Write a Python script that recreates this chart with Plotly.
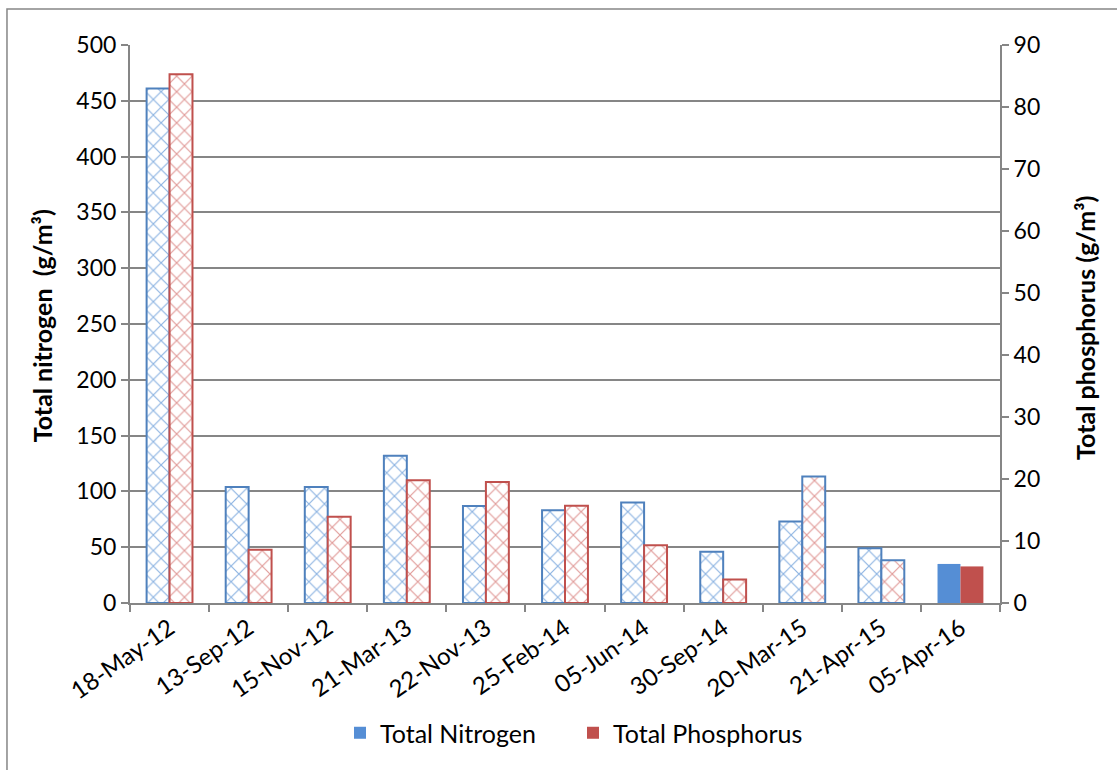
import plotly.graph_objects as go

# Sampling dates and measured concentrations
dates = ["18-May-12", "13-Sep-12", "15-Nov-12", "21-Mar-13", "22-Nov-13", "25-Feb-14",
         "05-Jun-14", "30-Sep-14", "20-Mar-15", "21-Apr-15", "05-Apr-16"]
nitrogen = [461, 104, 104, 132, 87, 83, 90, 46, 73, 49, 35]          # g/m3, left axis
phosphorus = [85.3, 8.6, 13.9, 19.8, 19.5, 15.7, 9.3, 3.8, 20.4, 6.9, 5.9]  # g/m3, right axis

N_SOLID = "#558ED5"
P_SOLID = "#C0504D"
N_EDGE = "#4F81BD"
P_EDGE = "#C0504D"
N_HATCH = "#8DB4E2"
P_HATCH = "#E19B99"
GRID = "#868686"
FONT = "Lato"

# all samples but the most recent are drawn cross-hatched, the last one solid
h = len(dates) - 1
n_line = [N_EDGE] * h
p_line = [P_EDGE] * h
# the two 2015 phosphorus bars carry a blue outline
p_line[8] = N_EDGE
p_line[9] = N_EDGE

fig = go.Figure()

def hatched(xs, ys, color, lines, group, axis):
    return go.Bar(
        x=xs, y=ys, showlegend=False, offsetgroup=group, yaxis=axis,
        marker=dict(
            color=color,
            line=dict(color=lines, width=2),
            pattern=dict(shape="x", size=11, solidity=0.2,
                         bgcolor="white", fillmode="replace"),
        ),
    )

fig.add_trace(hatched(dates[:h], nitrogen[:h], N_HATCH, n_line, "n", "y"))
fig.add_trace(hatched(dates[:h], phosphorus[:h], P_HATCH, p_line, "p", "y2"))

fig.add_trace(go.Bar(x=dates[h:], y=nitrogen[h:], name="Total Nitrogen", offsetgroup="n",
                     yaxis="y", marker=dict(color=N_SOLID, line=dict(width=0))))
fig.add_trace(go.Bar(x=dates[h:], y=phosphorus[h:], name="Total Phosphorus", offsetgroup="p",
                     yaxis="y2", marker=dict(color=P_SOLID, line=dict(width=0))))

fig.update_layout(
    width=1117, height=770,
    margin=dict(l=130, r=117, t=45, b=167),
    paper_bgcolor="white", plot_bgcolor="white",
    barmode="group", bargap=0.42, bargroupgap=0,
    font=dict(family=FONT, size=23, color="black"),
    xaxis=dict(
        type="category", categoryorder="array", categoryarray=dates,
        tickangle=-35, tickson="boundaries",
        ticks="outside", ticklen=7, tickwidth=2, tickcolor=GRID,
        showline=True, linecolor=GRID, linewidth=2,
        showgrid=False, tickfont=dict(size=24),
    ),
    yaxis=dict(
        range=[0, 500], dtick=50, tickmode="linear",
        showgrid=True, gridcolor=GRID, gridwidth=1.5,
        showline=True, linecolor=GRID, linewidth=2,
        ticks="outside", ticklen=7, tickwidth=2, tickcolor=GRID,
        zeroline=False, tickfont=dict(size=23),
    ),
    yaxis2=dict(
        range=[0, 90], dtick=10, tickmode="linear", overlaying="y", side="right",
        showgrid=False,
        showline=True, linecolor=GRID, linewidth=2,
        ticks="outside", ticklen=7, tickwidth=2, tickcolor=GRID,
        zeroline=False, tickfont=dict(size=23),
    ),
    legend=dict(
        orientation="h", x=0.5092, xanchor="center", y=-0.233, yanchor="middle",
        font=dict(size=25), itemwidth=30, tracegroupgap=0,
        entrywidth=188, entrywidthmode="pixels",
    ),
    annotations=[
        dict(text="<b>Total nitrogen  (g/m³)</b>", xref="paper", yref="paper",
             x=-0.1011, y=0.496, textangle=-90, showarrow=False,
             font=dict(size=25), xanchor="center", yanchor="middle"),
        dict(text="<b>Total phosphorus (g/m³)</b>", xref="paper", yref="paper",
             x=1.0977, y=0.493, textangle=-90, showarrow=False,
             font=dict(size=25), xanchor="center", yanchor="middle"),
    ],
    shapes=[
        dict(type="rect", xref="paper", yref="paper",
             x0=-0.1414, x1=1.15, y0=-0.32, y1=1.0645,
             line=dict(color=GRID, width=1.5), fillcolor="rgba(0,0,0,0)", layer="below"),
    ],
)

fig.write_html("out.html")
